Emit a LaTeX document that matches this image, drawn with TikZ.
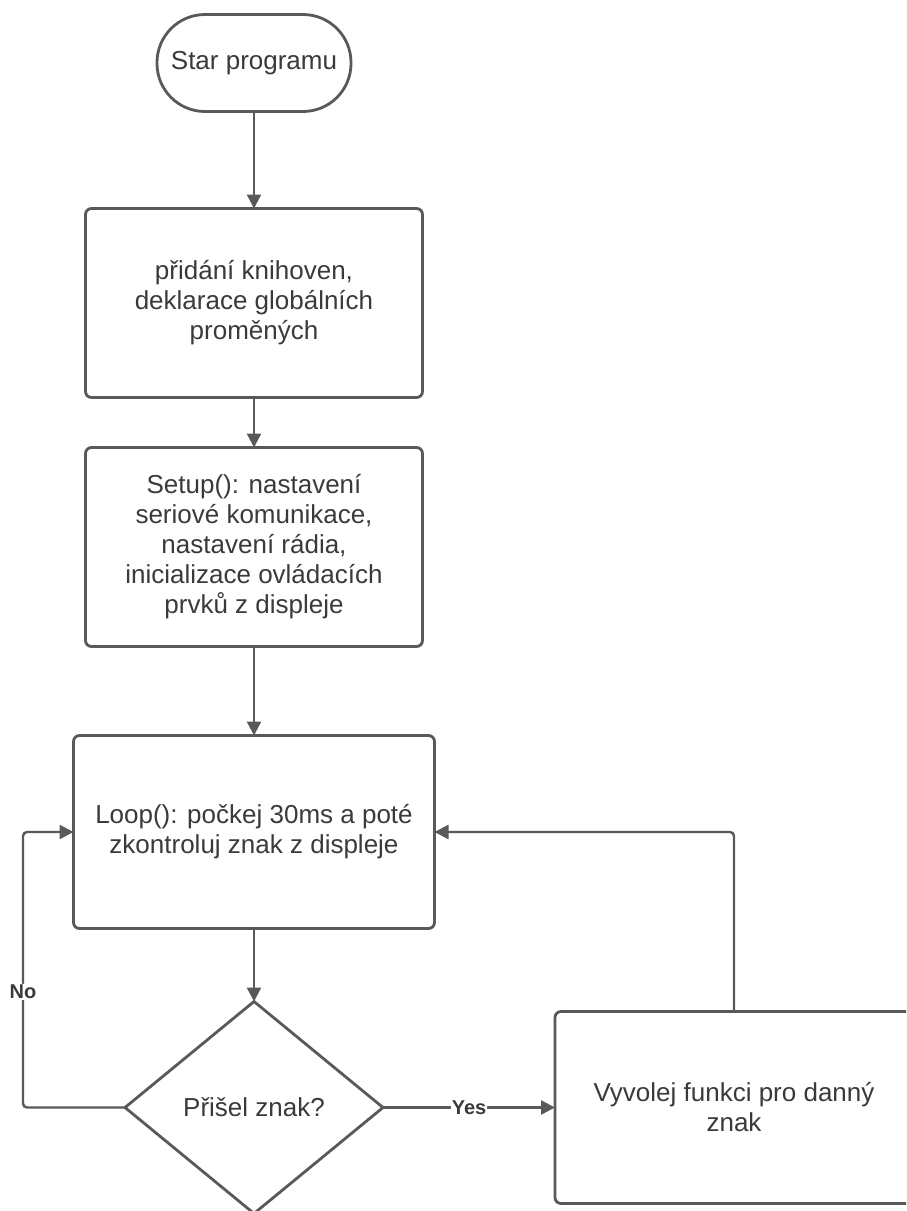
\documentclass[tikz,border=0pt]{standalone}
\usepackage{fontspec}
\setmainfont{Liberation Sans}
\usepackage{tikz}
\usetikzlibrary{shapes,arrows,arrows.meta,positioning}
\definecolor{linegray}{HTML}{595959}
\definecolor{textgray}{HTML}{3A3A3A}

\begin{document}
\begin{tikzpicture}[x=1pt, y=1pt, auto,
        font=\fontsize{26}{30}\selectfont, text=textgray,
        block/.style={rectangle, draw=linegray, line width=2.8pt, rounded corners=6pt, outer sep=0pt, align=center, minimum width=337pt},
        startstop/.style={rectangle, draw=linegray, line width=2.8pt, rounded corners=48pt, outer sep=0pt, minimum width=194pt, minimum height=97pt},
        decision/.style={diamond, draw=linegray, line width=2.8pt, inner sep=0pt, outer sep=0pt, minimum width=258pt, minimum height=212pt},
        conn/.style={draw=linegray, line width=2.4pt, rounded corners=4pt, -{Triangle[length=14pt, width=14pt]}},
        lbl/.style={font=\fontsize{20}{22}\selectfont\bfseries, fill=white, inner sep=1pt}]

        \useasboundingbox (0,0) rectangle (906,-1211);
        \clip (0,0) rectangle (906,-1211);

        \node[startstop] (start) at (254,-63) {Star programu};
        \node[block, minimum height=189pt, below=97pt of start] (libs) {přidání knihoven,\\deklarace globálních\\proměných};
        \node[block, minimum height=199pt, below=50pt of libs] (setup) {Setup(): nastavení\\seriové komunikace,\\nastavení rádia,\\inicializace ovládacích\\prvků z displeje};
        \node[block, minimum width=361pt, minimum height=193pt, below=89pt of setup] (loop) {Loop(): počkej 30ms a poté\\zkontroluj znak z displeje};
        \node[decision, below=73pt of loop] (check) {Přišel znak?};
        \node[block, minimum width=358pt, minimum height=192pt, right=172pt of check] (call) {Vyvolej funkci pro danný\\znak};

        \draw[conn] (start) -- (libs);
        \draw[conn] (libs) -- (setup);
        \draw[conn] (setup) -- (loop);
        \draw[conn] (loop) -- (check);
        \draw[conn] (check.east) -- node[lbl, pos=0.5, anchor=center] {Yes} (call.west);
        \draw[conn] (check.west) -- ++(-102,0) |- node[lbl, pos=0.21, anchor=center] {No} (loop.west);
        \draw[conn] (call.north) |- (loop.east);
    \end{tikzpicture}
\end{document}
